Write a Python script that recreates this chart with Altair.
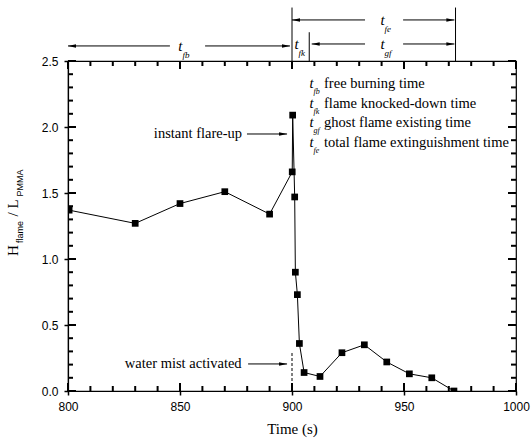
import altair as alt
import pandas as pd

# Flame height / PMMA length ratio over time
time_s = [800.5, 830, 850, 870, 890, 900.1, 900.3, 901.2, 901.5, 902.4, 903.3,
          905.4, 912.5, 922.3, 932.3, 942.3, 952.4, 962.4, 972.3]
ratio = [1.37, 1.27, 1.42, 1.51, 1.34, 1.66, 2.09, 1.47, 0.90, 0.73, 0.36,
         0.14, 0.11, 0.29, 0.35, 0.22, 0.13, 0.10, 0.0]

# Axis ticks
x_major = [800, 850, 900, 950, 1000]
x_minor = list(range(800, 1001, 10))
y_major = [0.0, 0.5, 1.0, 1.5, 2.0, 2.5]
y_minor = [round(i * 0.1, 1) for i in range(26)]

# Water-mist activation marker
mist_time = [900]
mist_top = [0.3]

# Horizontal arrow shafts (brackets above the plot and callout arrows)
seg_x = [800, 861.2, 900, 949.6, 908.8, 949.6, 879.9, 880.4]
seg_x2 = [845.5, 899.1, 932.6, 972.5, 932.6, 972.5, 897.8, 897.8]
seg_y = [2.614, 2.614, 2.811, 2.811, 2.629, 2.629, 1.947, 0.205]

# Arrow heads: tip position and direction
head_x = [800, 899.1, 900, 972.5, 908.8, 972.5, 897.8, 897.8]
head_y = [2.614, 2.614, 2.811, 2.811, 2.629, 2.629, 1.947, 0.205]
head_dir = ["left", "right", "left", "right", "left", "right", "right", "right"]

# Vertical bracket boundaries above the plot
bound_x = [900, 907.7, 973]
bound_top = [2.905, 2.718, 2.905]

# Interval symbols t_xx
sym_x = [850.2, 902.0, 940.4, 940.4]
sym_y = [2.614, 2.629, 2.629, 2.811]
sym_sub = ["fb", "fk", "gf", "fe"]

# Legend of interval symbols
leg_sub = ["fb", "fk", "gf", "fe"]
leg_text = ["free burning time", "flame knocked-down time",
            "ghost flame existing time", "total flame extinguishment time"]
leg_y = [2.326, 2.174, 2.027, 1.879]
leg_sym_x = 908.7
leg_text_x = 914.3

# Callout labels
call_text = ["instant flare-up", "water mist activated"]
call_x = [877.7, 877.5]
call_y = [1.947, 0.205]

# Rotated y-axis title pieces
yt_main = ["H", "/", "L"]
yt_main_y = [1.064, 1.337, 1.417]
yt_sub = ["flame", "PMMA"]
yt_sub_y = [1.205, 1.576]
yt_main_x = 775.4
yt_sub_x = 778.6

W, H = 448, 330
SERIF = "Liberation Serif"
SANS = "Liberation Sans"
TICK_W = 2

xs = alt.Scale(domain=[800, 1000], nice=False, zero=False)
ys = alt.Scale(domain=[0, 2.5], nice=False, zero=False)

df = pd.DataFrame({"time": time_s, "ratio": ratio})


def X(field, axis=None):
    return alt.X(field, type="quantitative", scale=xs, axis=axis)


def Y(field, axis=None):
    return alt.Y(field, type="quantitative", scale=ys, axis=axis)


def x_ticks(values, size):
    """Inward ticks on the bottom and top frame edges."""
    d = pd.DataFrame({"v": values})
    base = alt.Chart(d).mark_rule(color="black", strokeWidth=TICK_W)
    return [
        base.encode(x=X("v"), y=alt.value(H), y2=alt.value(H - size)),
        base.encode(x=X("v"), y=alt.value(0), y2=alt.value(size)),
    ]


def y_ticks(values, size):
    """Inward ticks on the left and right frame edges."""
    d = pd.DataFrame({"v": values})
    base = alt.Chart(d).mark_rule(color="black", strokeWidth=TICK_W)
    return [
        base.encode(y=Y("v"), x=alt.value(0), x2=alt.value(size)),
        base.encode(y=Y("v"), x=alt.value(W), x2=alt.value(W - size)),
    ]


# Line with labelled bottom/left axes
line = alt.Chart(df).mark_line(color="black", strokeWidth=1).encode(
    x=X("time", alt.Axis(orient="bottom", values=x_major, format="d", tickSize=4,
                         tickWidth=1.5, labelPadding=6, labelFlush=False,
                         labelFont=SANS, labelFontSize=12, labelColor="black",
                         domainColor="black", domainWidth=1.2, tickColor="black",
                         grid=False, title="Time (s)", titleFont=SERIF,
                         titleFontSize=15, titleFontWeight="normal",
                         titleColor="black", titlePadding=9)),
    y=Y("ratio", alt.Axis(orient="left", values=y_major, format=".1f", tickSize=4,
                          tickWidth=1.5, labelPadding=6, labelFlush=False,
                          labelFont=SANS, labelFontSize=12, labelColor="black",
                          domainColor="black", domainWidth=1.2, tickColor="black",
                          grid=False, title=None)),
)

# Square markers
points = alt.Chart(df).mark_point(shape="square", filled=True, color="black",
                                  size=45, opacity=1, clip=True).encode(
    x=X("time"), y=Y("ratio"))

# Dashed activation line
mist = alt.Chart(pd.DataFrame({"t": mist_time, "top": mist_top})).mark_rule(
    color="black", strokeWidth=1, strokeDash=[3, 2]).encode(
    x=X("t"), y=Y("zero"), y2="top:Q",
).transform_calculate(zero="0")

# Arrow shafts
shafts = alt.Chart(pd.DataFrame({"x": seg_x, "x2": seg_x2, "y": seg_y})).mark_rule(
    color="black", strokeWidth=1).encode(x=X("x"), x2="x2:Q", y=Y("y"))

# Arrow heads
heads_df = pd.DataFrame({"x": head_x, "y": head_y, "dir": head_dir})
heads_df["shape"] = heads_df["dir"].map({
    "right": "M0,0L-2,-0.45L-2,0.45Z",
    "left": "M0,0L2,-0.45L2,0.45Z",
})
heads = alt.Chart(heads_df).mark_point(filled=True, color="black", size=64,
                                       opacity=1, strokeWidth=0).encode(
    x=X("x"), y=Y("y"), shape=alt.Shape("shape:N", scale=None))

# Vertical bracket boundaries
bounds = alt.Chart(pd.DataFrame({"x": bound_x, "top": bound_top})).mark_rule(
    color="black", strokeWidth=1).encode(
    x=X("x"), y=Y("base"), y2="top:Q").transform_calculate(base="2.5")

# Interval symbols above the plot
sym_df = pd.DataFrame({"x": sym_x, "y": sym_y, "sub": sym_sub})
sym_t = alt.Chart(sym_df).mark_text(text="t", font=SERIF, fontSize=15,
                                    fontStyle="italic", color="black",
                                    align="center", baseline="middle").encode(
    x=X("x"), y=Y("y"))
sym_s = alt.Chart(sym_df).mark_text(font=SERIF, fontSize=9, fontStyle="italic",
                                    color="black", align="left", baseline="middle",
                                    dx=2, dy=9).encode(
    x=X("x"), y=Y("y"), text="sub:N")

# Symbol legend inside the plot
leg_df = pd.DataFrame({"y": leg_y, "sub": leg_sub, "label": leg_text,
                       "sx": [leg_sym_x] * 4, "tx": [leg_text_x] * 4})
leg_t = alt.Chart(leg_df).mark_text(text="t", font=SERIF, fontSize=14.5,
                                    fontStyle="italic", color="black",
                                    align="center", baseline="middle").encode(
    x=X("sx"), y=Y("y"))
leg_s = alt.Chart(leg_df).mark_text(font=SERIF, fontSize=8, fontStyle="italic",
                                    color="black", align="left", baseline="middle",
                                    dx=2, dy=8).encode(
    x=X("sx"), y=Y("y"), text="sub:N")
leg_l = alt.Chart(leg_df).mark_text(font=SERIF, fontSize=14.5, color="black",
                                    align="left", baseline="middle").encode(
    x=X("tx"), y=Y("y"), text="label:N")

# Callout labels
calls = alt.Chart(pd.DataFrame({"x": call_x, "y": call_y, "label": call_text})).mark_text(
    font=SERIF, fontSize=14.5, color="black", align="right", baseline="middle").encode(
    x=X("x"), y=Y("y"), text="label:N")

# Rotated y-axis title with subscripts
yt_a = alt.Chart(pd.DataFrame({"x": [yt_main_x] * 3, "y": yt_main_y, "s": yt_main})).mark_text(
    font=SERIF, fontSize=15, color="black", angle=270, align="center",
    baseline="middle").encode(x=X("x"), y=Y("y"), text="s:N")
yt_b = alt.Chart(pd.DataFrame({"x": [yt_sub_x] * 2, "y": yt_sub_y, "s": yt_sub})).mark_text(
    font=SANS, fontSize=9, color="black", angle=270, align="center",
    baseline="middle").encode(x=X("x"), y=Y("y"), text="s:N")

# Inward frame ticks
tick_layers = (x_ticks(x_minor, 5) + x_ticks(x_major, 8)
               + y_ticks(y_minor, 5) + y_ticks(y_major, 8))

chart = alt.layer(
    line, *tick_layers, points, mist, shafts, heads, bounds,
    sym_t, sym_s, leg_t, leg_s, leg_l, calls, yt_a, yt_b,
).resolve_axis(x="independent", y="independent").properties(
    width=W, height=H,
    autosize=alt.AutoSizeParams(type="none"),
    padding={"left": 68, "top": 61, "right": 15, "bottom": 55},
    background="white",
).configure_view(stroke="black", strokeWidth=1.2)

chart.save("out.html", embed_options={"renderer": "svg", "actions": False})
